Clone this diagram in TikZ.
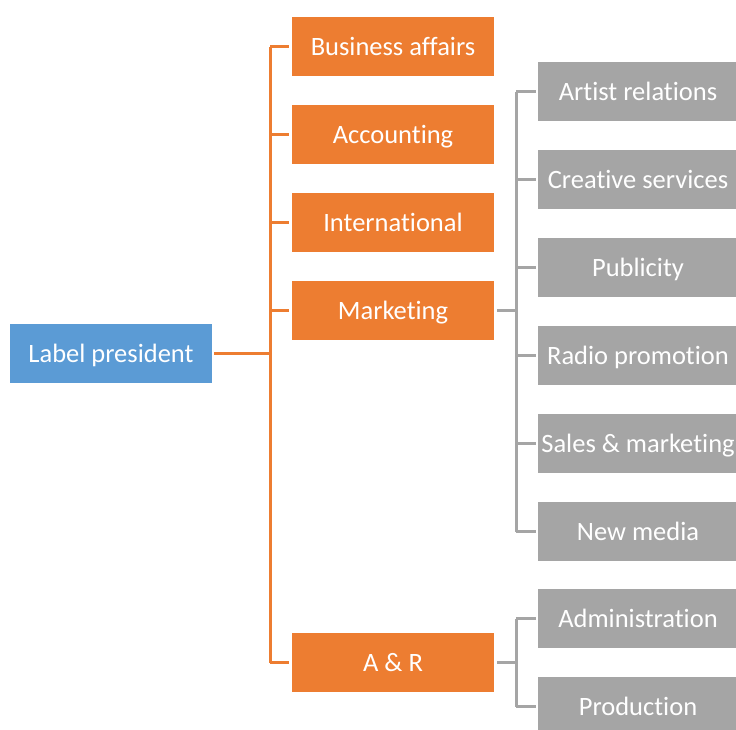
\documentclass[tikz,border=0pt]{standalone}
\usepackage{fontspec}
\setmainfont{Carlito}[Ligatures={NoCommon}]
\definecolor{presblue}{HTML}{5B9BD5}
\definecolor{deptorange}{HTML}{ED7D31}
\definecolor{unitgray}{HTML}{A5A5A5}
\tikzset{
  unit/.style={minimum width=202pt, minimum height=59pt, inner sep=0pt,
    text height=17pt, text depth=0pt,
    text=white, font=\fontsize{26.5}{30}\selectfont},
  presbox/.style={unit, fill=presblue},
  deptbox/.style={unit, fill=deptorange},
  subbox/.style={unit, fill=unitgray, minimum width=200pt},
  oline/.style={draw=deptorange, line width=3pt},
  gline/.style={draw=unitgray, line width=3pt},
}
\begin{document}
\begin{tikzpicture}[x=1pt, y=-1pt]
\clip (0,0) rectangle (736,729);
\fill[white] (0,0) rectangle (736,729);

% president
\node[presbox] (pres) at (111,353.5) {Label president};

% departments
\node[deptbox] (ba)  at (393,46.5)  {Business affairs};
\node[deptbox] (acc) at (393,134.5) {Accounting};
\node[deptbox] (intl) at (393,222.5) {International};
\node[deptbox] (mkt) at (393,310.5) {Marketing};
\node[deptbox] (anr) at (393,662.5) {A \& R};

% marketing units
\node[subbox] (art) at (638,91.5)  {Artist relations};
\node[subbox] (cre) at (638,179.5) {Creative services};
\node[subbox] (pub) at (638,267.5) {Publicity};
\node[subbox] (rad) at (638,355.5) {Radio promotion};
\node[subbox] (sal) at (638,443.5) {Sales \& marketing};
\node[subbox] (new) at (638,531.5) {New media};

% A & R units
\node[subbox] (adm) at (638,618.5) {Administration};
\node[subbox] (pro) at (638,706.5) {Production};

% spines
\coordinate (ospine) at (270,0);
\coordinate (gspine) at (516,0);

% president to departments
\draw[oline, shorten <=2pt] (pres.east) -- (pres.east -| ospine);
\draw[oline] (ba.west -| ospine) -- (anr.west -| ospine);
\foreach \d in {ba,acc,intl,mkt,anr}
  \draw[oline, shorten >=3pt] (\d.west -| ospine) -- (\d.west);

% marketing to its units
\draw[gline, shorten <=3pt] (mkt.east) -- (mkt.east -| gspine);
\draw[gline] (art.west -| gspine) -- (new.west -| gspine);
\foreach \u in {art,cre,pub,rad,sal,new}
  \draw[gline, shorten >=2pt] (\u.west -| gspine) -- (\u.west);

% A & R to its units
\draw[gline, shorten <=3pt] (anr.east) -- (anr.east -| gspine);
\draw[gline] (adm.west -| gspine) -- (pro.west -| gspine);
\foreach \u in {adm,pro}
  \draw[gline, shorten >=2pt] (\u.west -| gspine) -- (\u.west);
\end{tikzpicture}
\end{document}
